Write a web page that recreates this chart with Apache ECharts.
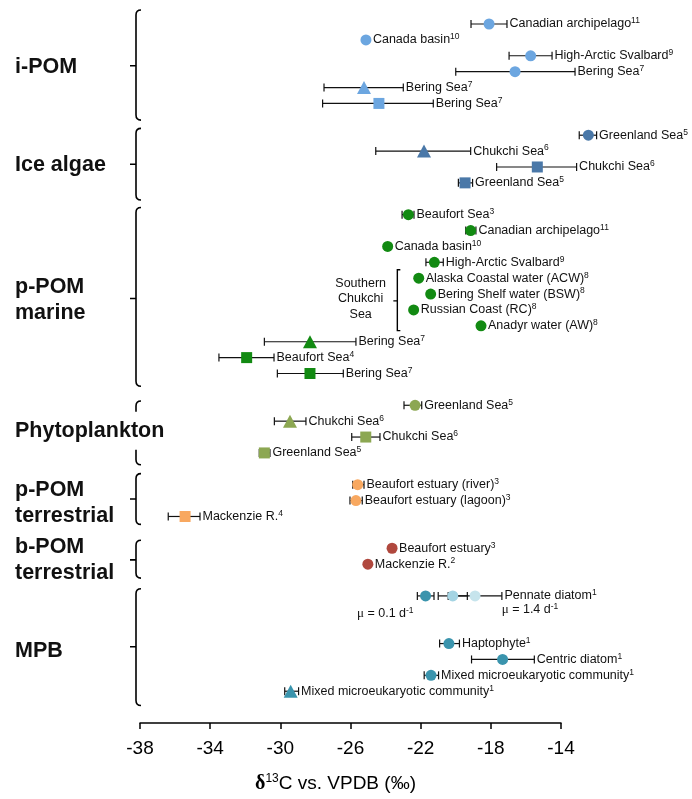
<!DOCTYPE html>
<html><head><meta charset="utf-8">
<script src="https://cdn.jsdelivr.net/npm/echarts@6/dist/echarts.min.js"></script>
<style>html,body{margin:0;padding:0;background:#fff}#chart{width:692px;height:799px}</style>
</head><body><div id="chart"></div>
<script>
// ---- data ----
const rows = [0,1,2,3,4,5, 7,8,9,10, 12,13,14,15,16,17,18,19,20,21,22, 24,25,26,27, 29,30,31, 33,34, 36,36,36,39,40,41,42];
const names = ['Canadian archipelago','Canada basin','High-Arctic Svalbard','Bering Sea','Bering Sea','Bering Sea',
  'Greenland Sea','Chukchi Sea','Chukchi Sea','Greenland Sea',
  'Beaufort Sea','Canadian archipelago','Canada basin','High-Arctic Svalbard','Alaska Coastal water (ACW)','Bering Shelf water (BSW)','Russian Coast (RC)','Anadyr water (AW)','Bering Sea','Beaufort Sea','Bering Sea',
  'Greenland Sea','Chukchi Sea','Chukchi Sea','Greenland Sea',
  'Beaufort estuary (river)','Beaufort estuary (lagoon)','Mackenzie R.',
  'Beaufort estuary','Mackenzie R.',
  '','','Pennate diatom','Haptophyte','Centric diatom','Mixed microeukaryotic community','Mixed microeukaryotic community'];
const refs = ['11','10','9','7','7','7', '5','6','6','5', '3','11','10','9','8','8','8','8','7','4','7', '5','6','6','5', '3','3','4', '3','2', '','','1','1','1','1','1'];
const values = [-18.10,-25.12,-15.73,-16.62,-25.23,-24.38,
  -12.44,-21.81,-15.35,-19.47,
  -22.70,-19.15,-23.88,-21.22,-22.11,-21.43,-22.40,-18.56,-28.31,-31.92,-28.31,
  -22.32,-29.45,-25.13,-30.91,
  -25.59,-25.69,-35.43,
  -23.63,-25.01,
  -21.72,-20.17,-18.90,-20.39,-17.33,-21.41,-29.41];
const errLow = [-19.13,null,-16.96,-20.00,-27.51,-27.59,
  -12.96,-24.56,-17.67,-19.85,
  -23.06,-19.43,null,-21.70,null,null,null,null,-30.91,-33.50,-30.17,
  -22.95,-30.34,-25.93,-31.20,
  -25.87,-26.03,-36.39,
  null,null,
  -22.19,-21.00,-20.43,-20.92,-19.10,-21.80,-29.75];
const errHigh = [-17.08,null,-14.51,-13.20,-22.99,-21.28,
  -11.97,-19.15,-13.11,-19.04,
  -22.38,-18.85,null,-20.71,null,null,null,null,-25.69,-30.36,-26.41,
  -21.94,-28.54,-24.32,-30.59,
  -25.23,-25.33,-34.58,
  null,null,
  -21.24,-19.34,-17.37,-19.79,-15.52,-20.98,-28.96];
const shapes = ['circle','circle','circle','circle','triangle','rect',
  'circle','triangle','rect','rect',
  'circle','circle','circle','circle','circle','circle','circle','circle','triangle','rect','rect',
  'circle','triangle','rect','rect',
  'circle','circle','rect',
  'circle','circle',
  'circle','circle','circle','circle','circle','circle','triangle'];
const colorKeys = ['ipom','ipom','ipom','ipom','ipom','ipom',
  'ice','ice','ice','ice',
  'marine','marine','marine','marine','marine','marine','marine','marine','marine','marine','marine',
  'phyto','phyto','phyto','phyto',
  'terr','terr','terr',
  'bpom','bpom',
  'mpb','mpbLight','mpbLighter','mpb','mpb','mpb','mpb'];
const palette = {ipom:'#6CA6E0', ice:'#4A78A8', marine:'#128A12', phyto:'#8CA752', terr:'#F8A860', bpom:'#B0483E', mpb:'#3A94AD', mpbLight:'#A4D4E3', mpbLighter:'#C6E4EC'};

const groupNames = ['i-POM','Ice algae','p-POM\nmarine','Phytoplankton','p-POM\nterrestrial','b-POM\nterrestrial','MPB'];
const groupTop = [-0.88, 6.57, 11.55, 23.73, 28.3, 32.5, 35.55];
const groupBottom = [6.05, 11.08, 22.8, 27.74, 31.5, 34.88, 42.9];
const groupMid = [2.63, 8.83, 17.28, 25.6, 29.9, 33.73, 39.2];
const groupLabelRow = [2.69, 8.89, 17.4, 25.6, 30.15, 33.75, 39.5];

const xTicks = {min:-38, max:-14, step:4};
const rowMax = 44;

// annotations
const muTexts = ['μ = 0.1 d', 'μ = 1.4 d'];
const muX = [-25.63, -17.38];
const muRow = [37.1, 36.85];
const subBracket = {x:-23.33, top:15.47, bottom:19.3, mid:17.43, textX:-25.42, textRow:17.3, text:'Southern\nChukchi\nSea'};

// ---- build ----
const FONT = 'Liberation Sans';
const sizeOf = {circle:11, rect:11, triangle:[14,13]};
const markerData = values.map((v,i)=>({value:[v, rows[i]], symbol:shapes[i], symbolSize:sizeOf[shapes[i]], itemStyle:{color:palette[colorKeys[i]], opacity:1}}));
const errData = [];
values.forEach((v,i)=>{ if(errLow[i]!==null) errData.push([errLow[i], errHigh[i], rows[i]]); });
const labelData = [];
values.forEach((v,i)=>{ if(names[i]) labelData.push([errHigh[i]!==null?errHigh[i]:v, rows[i], errHigh[i]!==null?1:0, i]); });
const groupData = groupNames.map((n,i)=>[groupTop[i], groupBottom[i], groupMid[i], groupLabelRow[i], i]);

const chart = echarts.init(document.getElementById('chart'));
const lineStyle = {stroke:'#111', lineWidth:1.2};
chart.setOption({
  backgroundColor:'#fff',
  animation:false,
  grid:{left:140, right:131, top:24, bottom:72},
  xAxis:{type:'value', min:xTicks.min, max:xTicks.max, interval:xTicks.step,
    axisLine:{show:true, onZero:false, lineStyle:{color:'#000', width:1.5}},
    axisTick:{show:true, length:6, lineStyle:{color:'#000', width:1.5}},
    axisLabel:{fontSize:19, color:'#000', fontFamily:FONT, margin:16},
    splitLine:{show:false},
    name:'{d|δ}{s|13}{n|C vs. VPDB (‰)}', nameLocation:'middle', nameGap:50,
    nameTextStyle:{padding:[0,30,0,0], rich:{
      d:{fontSize:20, fontWeight:'bold', fontFamily:'Liberation Serif', color:'#000', lineHeight:22},
      s:{fontSize:12, fontFamily:FONT, color:'#000', verticalAlign:'top', lineHeight:22},
      n:{fontSize:19, fontFamily:FONT, color:'#000', lineHeight:22}}}
  },
  yAxis:{type:'value', min:0, max:rowMax, inverse:true, show:false},
  series:[
    {type:'custom', z:2, clip:false, data:errData,
      renderItem:(p,api)=>{
        const lo=api.coord([api.value(0),api.value(2)]), hi=api.coord([api.value(1),api.value(2)]);
        const h=4;
        return {type:'group', children:[
          {type:'line', shape:{x1:lo[0],y1:lo[1],x2:hi[0],y2:hi[1]}, style:lineStyle},
          {type:'line', shape:{x1:lo[0],y1:lo[1]-h,x2:lo[0],y2:lo[1]+h}, style:lineStyle},
          {type:'line', shape:{x1:hi[0],y1:hi[1]-h,x2:hi[0],y2:hi[1]+h}, style:lineStyle}]};
      }},
    {type:'scatter', z:3, clip:false, data:markerData, itemStyle:{opacity:1}},
    {type:'custom', z:4, clip:false, data:labelData,
      renderItem:(p,api)=>{
        const i=api.value(3);
        const c=api.coord([api.value(0),api.value(1)]);
        const off=api.value(2)?2.5:7;
        return {type:'text', x:c[0]+off, y:c[1], style:{
          text:'{n|'+names[i]+'}{s|'+refs[i]+'}', verticalAlign:'middle', align:'left',
          rich:{n:{fontSize:12.5, fontFamily:FONT, fill:'#111', lineHeight:15},
                s:{fontSize:8.5, fontFamily:FONT, fill:'#111', lineHeight:15, verticalAlign:'top'}}}};
      }},
    {type:'custom', z:4, clip:false, data:groupData,
      renderItem:(p,api)=>{
        const i=api.value(4);
        const x=api.coord([xTicks.min,0])[0]-4;
        const t=api.coord([xTicks.min,api.value(0)])[1], b=api.coord([xTicks.min,api.value(1)])[1], m=api.coord([xTicks.min,api.value(2)])[1];
        const ly=api.coord([xTicks.min,api.value(3)])[1];
        const path='M'+(x+5)+','+t+' Q'+x+','+t+' '+x+','+(t+5)+' L'+x+','+(b-5)+' Q'+x+','+b+' '+(x+5)+','+b+' M'+x+','+m+' L'+(x-6)+','+m;
        return {type:'group', children:[
          {type:'path', shape:{pathData:path}, style:{stroke:'#000', lineWidth:1.6, fill:null}},
          {type:'text', x:15, y:ly, style:{text:groupNames[i], fontSize:21.5, fontWeight:'bold', fontFamily:FONT, fill:'#111',
            verticalAlign:'middle', align:'left', lineHeight:26, backgroundColor:'#fff', padding:[6,0,6,0]}}]};
      }},
    {type:'custom', z:4, clip:false, data:[[subBracket.x, subBracket.top]],
      renderItem:(p,api)=>{
        const t=api.coord([subBracket.x,subBracket.top]), b=api.coord([subBracket.x,subBracket.bottom]), m=api.coord([subBracket.x,subBracket.mid]);
        const tc=api.coord([subBracket.textX,subBracket.textRow]);
        const x=t[0];
        const path='M'+(x+3)+','+t[1]+' L'+x+','+t[1]+' L'+x+','+b[1]+' L'+(x+3)+','+b[1]+' M'+x+','+m[1]+' L'+(x-4)+','+m[1];
        return {type:'group', children:[
          {type:'path', shape:{pathData:path}, style:{stroke:'#000', lineWidth:1.4, fill:null}},
          {type:'text', x:tc[0], y:tc[1], style:{text:subBracket.text, fontSize:12.5, fontFamily:FONT, fill:'#111', align:'center', verticalAlign:'middle', lineHeight:15.5}}]};
      }},
    {type:'custom', z:4, clip:false, data:muX.map((x,i)=>[x,muRow[i],i]),
      renderItem:(p,api)=>{
        const i=api.value(2);
        const c=api.coord([api.value(0),api.value(1)]);
        return {type:'text', x:c[0], y:c[1], style:{text:'{m|μ}{n|'+muTexts[i].slice(1)+'}{s|-1}', verticalAlign:'middle', align:'left',
          rich:{m:{fontSize:13, fontFamily:'Liberation Serif', fill:'#111', lineHeight:15},
                n:{fontSize:12.5, fontFamily:FONT, fill:'#111', lineHeight:15},
                s:{fontSize:8.5, fontFamily:FONT, fill:'#111', lineHeight:15, verticalAlign:'top'}}}};
      }}
  ]
});
</script></body></html>
